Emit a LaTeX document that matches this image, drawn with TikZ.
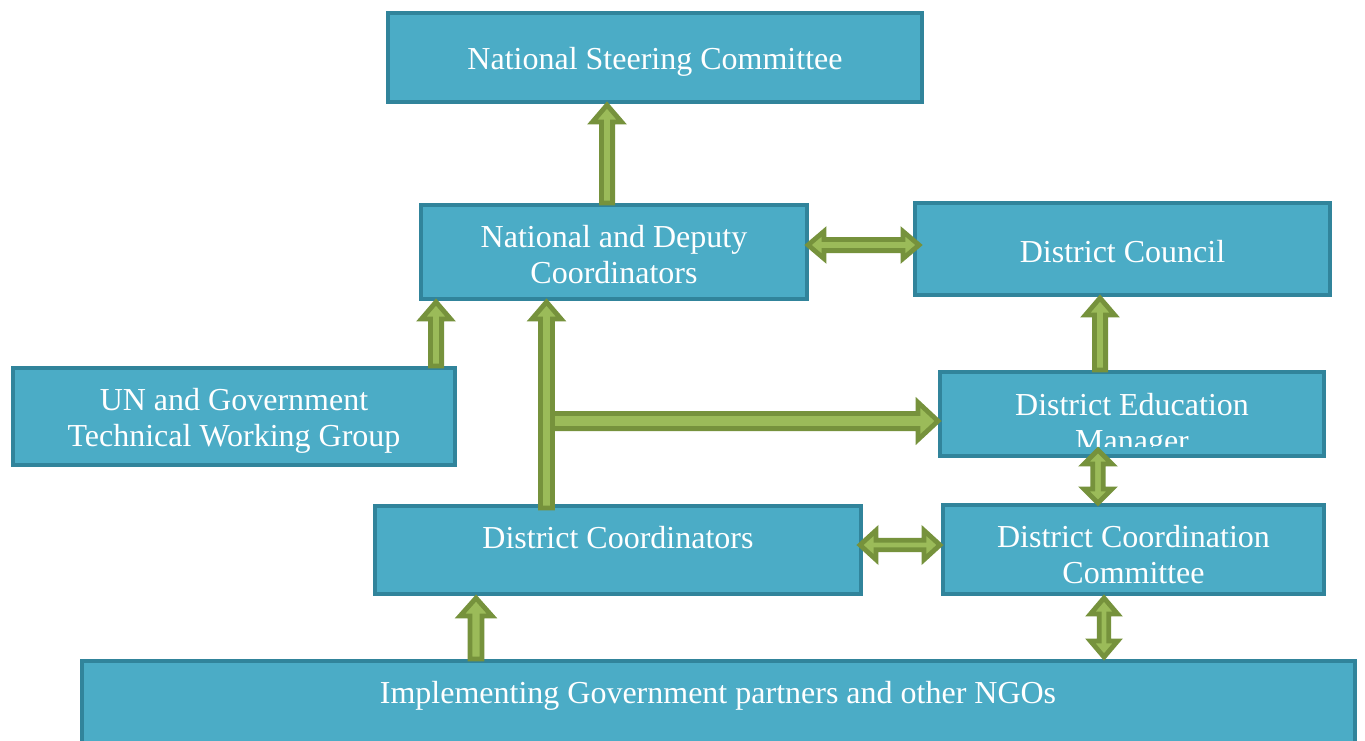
\documentclass[tikz,border=0pt]{standalone}
\usepackage{fontspec}
\setmainfont{Liberation Serif}
\usetikzlibrary{calc}
\definecolor{boxfill}{HTML}{4BACC6}
\definecolor{boxline}{HTML}{31849B}
\definecolor{arrfill}{HTML}{9BBB59}
\definecolor{arrline}{HTML}{76923C}
\tikzset{
  orgbox/.style={draw=boxline, fill=boxfill, line width=2pt, inner sep=0pt},
  lbl/.style={text=white, font=\fontsize{16}{18}\selectfont, align=center, inner sep=0pt},
  blockarrow/.style={draw=arrline, fill=arrfill, line width=2.4pt, line join=miter}
}
% vertical, single head at #2
\newcommand\varrow[5]{\path[blockarrow] let \p1=(#1),\p2=(#2),\n1={sign(\y2-\y1)} in
  ({\x1-#3},\y1) -- ({\x1-#3},{\y2-(\n1)*#5}) -- ({\x1-#4},{\y2-(\n1)*#5}) -- (\x1,\y2)
  -- ({\x1+#4},{\y2-(\n1)*#5}) -- ({\x1+#3},{\y2-(\n1)*#5}) -- ({\x1+#3},\y1) -- cycle;}
% vertical, double head
\newcommand\vdarrow[5]{\path[blockarrow] let \p1=(#1),\p2=(#2),\n1={sign(\y2-\y1)} in
  (\x1,\y1) -- ({\x1-#4},{\y1+(\n1)*#5}) -- ({\x1-#3},{\y1+(\n1)*#5}) -- ({\x1-#3},{\y2-(\n1)*#5})
  -- ({\x1-#4},{\y2-(\n1)*#5}) -- (\x1,\y2) -- ({\x1+#4},{\y2-(\n1)*#5}) -- ({\x1+#3},{\y2-(\n1)*#5})
  -- ({\x1+#3},{\y1+(\n1)*#5}) -- ({\x1+#4},{\y1+(\n1)*#5}) -- cycle;}
% horizontal, single head at #2
\newcommand\harrow[5]{\path[blockarrow] let \p1=(#1),\p2=(#2),\n1={sign(\x2-\x1)} in
  (\x1,{\y1-#3}) -- ({\x2-(\n1)*#5},{\y1-#3}) -- ({\x2-(\n1)*#5},{\y1-#4}) -- (\x2,\y1)
  -- ({\x2-(\n1)*#5},{\y1+#4}) -- ({\x2-(\n1)*#5},{\y1+#3}) -- (\x1,{\y1+#3}) -- cycle;}
% horizontal, double head
\newcommand\hdarrow[5]{\path[blockarrow] let \p1=(#1),\p2=(#2),\n1={sign(\x2-\x1)} in
  (\x1,\y1) -- ({\x1+(\n1)*#5},{\y1-#4}) -- ({\x1+(\n1)*#5},{\y1-#3}) -- ({\x2-(\n1)*#5},{\y1-#3})
  -- ({\x2-(\n1)*#5},{\y1-#4}) -- (\x2,\y1) -- ({\x2-(\n1)*#5},{\y1+#4}) -- ({\x2-(\n1)*#5},{\y1+#3})
  -- ({\x1+(\n1)*#5},{\y1+#3}) -- ({\x1+(\n1)*#5},{\y1+#4}) -- cycle;}

\begin{document}
\begin{tikzpicture}[x=0.5pt,y=-0.5pt]
\useasboundingbox (0,0) rectangle (1365,740);
\fill[white] (0,0) rectangle (1365,740);

% boxes
\node[orgbox, minimum width=267pt, minimum height=44.5pt] (nsc) at (655,57.5) {};
\node[orgbox, minimum width=193pt, minimum height=47pt] (ndc) at (614,252) {};
\node[orgbox, minimum width=207.5pt, minimum height=46pt] (dcl) at (1122.5,249) {};
\node[orgbox, minimum width=221pt, minimum height=48.5pt] (un) at (234,416.5) {};
\node[orgbox, minimum width=192pt, minimum height=42pt] (dem) at (1132,414) {};
\node[orgbox, minimum width=243pt, minimum height=44pt] (dco) at (618,550) {};
\node[orgbox, minimum width=190.5pt, minimum height=44.5pt] (dcc) at (1133.5,549.5) {};
\node[orgbox, minimum width=636.5pt, minimum height=68.5pt] (impl) at (718.5,729.5) {};

% texts
\node[lbl] (nscT) at (655,62) {National Steering Committee};
\node[lbl] (ndcT) at (614,255) {National and Deputy\\Coordinators};
\node[lbl] (dclT) at (1122.5,252) {District Council};
\node[lbl] (unT) at (234,421) {UN and Government\\Technical Working Group};
\begin{scope}
  \clip ($(dem.north west)+(2,2)$) rectangle ($(dem.south east)+(-2,-12)$);
  \node[lbl] (demT) at (1132,426) {District Education\\Manager};
\end{scope}
\node[lbl] (dcoT) at (618,538) {District Coordinators};
\node[lbl] (dccT) at (1133.5,554.5) {District Coordination\\Committee};
\node[lbl] (implT) at (718,696) {Implementing Government partners and other NGOs};

% arrow guide coordinates
\coordinate (xa1) at (607,0);
\coordinate (xa3) at (546.5,0);
\coordinate (xa5) at (1100,0);
\coordinate (xa6) at (1098,0);
\coordinate (xa8) at (476,0);
\coordinate (xa9) at (1104,0);
\coordinate (xa10) at (436,0);
\coordinate (ya2) at (0,245);
\coordinate (ya7) at (0,545);
\coordinate (b4) at (551,421);

% arrows
\varrow{ndc.north -| xa1}{$(nsc.south -| xa1)+(0,1)$}{2.8pt}{7.3pt}{8.5pt}
\hdarrow{$(ndc.east |- ya2)+(-1,0)$}{$(dcl.west |- ya2)+(6,0)$}{2.8pt}{6.8pt}{8pt}
\harrow{b4}{$(dem.west |- b4)+(0,0)$}{3.8pt}{9.3pt}{10pt}
\varrow{$(dco.north -| xa3)+(0,4)$}{$(ndc.south -| xa3)+(0,1)$}{3pt}{7.3pt}{8.5pt}
\varrow{un.north -| xa10}{$(ndc.south -| xa10)+(0,1)$}{2.8pt}{7.3pt}{8.5pt}
\varrow{dem.north -| xa5}{$(dcl.south -| xa5)+(0,1)$}{2.8pt}{7.3pt}{8.5pt}
\vdarrow{$(dem.south -| xa6)+(0,-8)$}{$(dcc.north -| xa6)$}{2.6pt}{7pt}{7pt}
\hdarrow{$(dco.east |- ya7)+(-3,0)$}{$(dcc.west |- ya7)+(-1,0)$}{2.4pt}{7.3pt}{8pt}
\varrow{impl.north -| xa8}{$(dco.south -| xa8)+(0,2)$}{3pt}{8pt}{9pt}
\vdarrow{$(dcc.south -| xa9)+(0,2)$}{$(impl.north -| xa9)+(0,-2)$}{2.4pt}{6.8pt}{8pt}
\end{tikzpicture}
\end{document}
